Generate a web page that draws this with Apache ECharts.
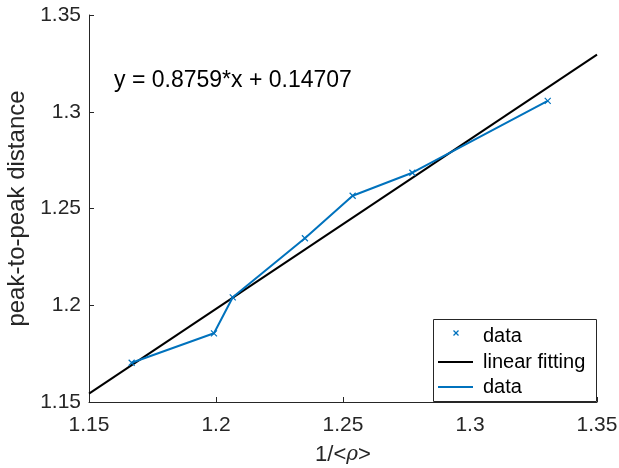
<!DOCTYPE html>
<html><head><meta charset="utf-8">
<script src="https://cdn.jsdelivr.net/npm/echarts@6/dist/echarts.min.js"></script>
<style>html,body{margin:0;padding:0;background:#fff}#c{width:619px;height:468px}</style>
</head><body><div id="c"></div>
<script>
const dataX = [1.1668, 1.1992, 1.2066, 1.2350, 1.2538, 1.2773, 1.3306];
const dataY = [1.1703, 1.1855, 1.2041, 1.2346, 1.2566, 1.2685, 1.3056];
const fitX = [1.15, 1.35];
const fitY = [1.15436, 1.32954];
const xTicks = ['1.15', '1.2', '1.25', '1.3', '1.35'];
const yTicks = ['1.15', '1.2', '1.25', '1.3', '1.35'];
const fitLabel = 'y = 0.8759*x + 0.14707';
const legendNames = ['data', 'linear fitting', 'data'];

const FONT = 'Liberation Sans, Arial, Helvetica, sans-serif';
const BLUE = '#0072BD';
const AX = '#262626';
const xPath = 'path://M0,0L10,10M10,0L0,10';

const chart = echarts.init(document.getElementById('c'), null, {renderer: 'canvas'});
const axisCommon = {
  type: 'value', min: 1.15, max: 1.35, interval: 0.05,
  axisLine: {show: true, lineStyle: {color: AX, width: 1}},
  axisTick: {show: true, inside: true, length: 5, lineStyle: {color: AX}},
  splitLine: {show: false},
  nameLocation: 'middle',
};
chart.setOption({
  animation: false,
  backgroundColor: '#fff',
  grid: {left: 89, right: 22, top: 15, bottom: 66, containLabel: false, outerBoundsMode: 'none'},
  xAxis: Object.assign({}, axisCommon, {
    name: '1/<{i|ρ}>', nameGap: 42,
    nameTextStyle: {color: AX, fontFamily: FONT, fontSize: 22,
      rich: {i: {fontStyle: 'italic', fontFamily: 'DejaVu Serif, serif', fontSize: 20, color: AX}}},
    axisLabel: {color: AX, fontFamily: FONT, fontSize: 21, margin: 13,
      formatter: (v, i) => xTicks[i]}
  }),
  yAxis: Object.assign({}, axisCommon, {
    name: 'peak-to-peak distance', nameGap: 58,
    nameTextStyle: {color: AX, fontFamily: FONT, fontSize: 24},
    axisLabel: {color: AX, fontFamily: FONT, fontSize: 21, margin: 8,
      formatter: (v, i) => yTicks[i]}
  }),
  series: [
    {type: 'line', name: 'fit', data: fitX.map((x, i) => [x, fitY[i]]),
     showSymbol: false, lineStyle: {color: '#000', width: 2}, z: 2},
    {type: 'line', name: 'data', data: dataX.map((x, i) => [x, dataY[i]]),
     symbol: xPath, symbolSize: 6, showAllSymbol: true,
     itemStyle: {color: BLUE, borderColor: BLUE, borderWidth: 1.2},
     lineStyle: {color: BLUE, width: 2}, z: 3}
  ],
  graphic: [
    {type: 'text', x: 114, y: 81, style: {text: fitLabel, fill: '#000', font: '23px ' + FONT, verticalAlign: 'middle'}},
    {type: 'rect', shape: {x: 433.5, y: 319.5, width: 163, height: 82},
     style: {fill: '#fff', stroke: AX, lineWidth: 1}, z: 10},
    {type: 'line', shape: {x1: 453.5, y1: 330.5, x2: 458.5, y2: 335.5}, style: {stroke: BLUE, lineWidth: 1.2}, z: 11},
    {type: 'line', shape: {x1: 458.5, y1: 330.5, x2: 453.5, y2: 335.5}, style: {stroke: BLUE, lineWidth: 1.2}, z: 11},
    {type: 'line', shape: {x1: 438, y1: 362, x2: 473, y2: 362}, style: {stroke: '#000', lineWidth: 2}, z: 11},
    {type: 'line', shape: {x1: 438, y1: 387, x2: 473, y2: 387}, style: {stroke: BLUE, lineWidth: 2}, z: 11},
    {type: 'text', x: 483, y: 336, style: {text: legendNames[0], fill: '#000', font: '20px ' + FONT, verticalAlign: 'middle'}, z: 11},
    {type: 'text', x: 483, y: 362, style: {text: legendNames[1], fill: '#000', font: '20px ' + FONT, verticalAlign: 'middle'}, z: 11},
    {type: 'text', x: 483, y: 387, style: {text: legendNames[2], fill: '#000', font: '20px ' + FONT, verticalAlign: 'middle'}, z: 11}
  ]
});
</script></body></html>
